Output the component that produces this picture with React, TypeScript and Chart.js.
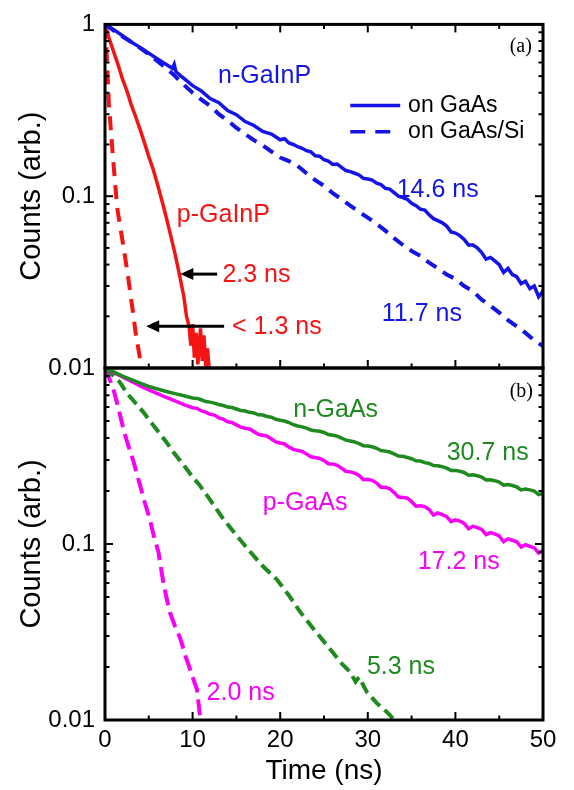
import React, { useEffect, useRef } from 'react';
import { Chart, registerables } from 'chart.js';

Chart.register(...registerables);

const FONT = '"Liberation Sans", Arial, Helvetica, sans-serif';
const SERIF = '"Liberation Serif", "Times New Roman", serif';

// ---- axes ----
const xMin = 0;
const xMax = 50;
const xMajor = [0, 10, 20, 30, 40, 50];
const xMinor = [5, 15, 25, 35, 45];
const yMajor = [0.01, 0.1, 1];
const topYLabels = ['0.01', '0.1', '1'];
const bottomYLabels = ['0.01', '0.1', ''];
const xLabels = ['0', '10', '20', '30', '40', '50'];

// ---- colours ----
const BLUE = '#1414e8';
const RED = '#f41414';
const GREEN = '#1f8a1f';
const MAGENTA = '#f800f8';

// ---- panel (a): GaInP ----
const nGaInP_GaAs: [number, number][] = [
  [0, 1], [1, 0.93], [2, 0.86], [3, 0.79], [4, 0.735], [5, 0.68], [6, 0.63], [7, 0.585],
  [7.7, 0.555], [7.9, 0.585], [8.1, 0.53], [9, 0.485], [10, 0.44], [11, 0.41], [12, 0.37],
  [13, 0.35], [14, 0.315], [15, 0.298], [16, 0.272], [17, 0.258], [18, 0.238], [19, 0.23],
  [20, 0.213], [20.5, 0.216], [21, 0.204], [21.5, 0.2], [22, 0.194], [22.5, 0.19], [23, 0.184],
  [23.5, 0.181], [24, 0.172], [24.5, 0.171], [25, 0.163], [25.5, 0.16], [26, 0.153],
  [26.5, 0.154], [27, 0.147], [27.5, 0.141], [28, 0.139], [28.5, 0.136], [29, 0.133],
  [29.5, 0.127], [30, 0.126], [30.5, 0.124], [31, 0.119], [31.5, 0.117], [32, 0.111],
  [32.5, 0.11], [33, 0.105], [33.5, 0.1], [34, 0.098], [34.5, 0.096], [35, 0.091],
  [35.5, 0.088], [36, 0.084], [36.5, 0.083], [37, 0.078], [37.5, 0.074], [38, 0.072],
  [38.5, 0.07], [39, 0.067], [39.5, 0.062], [40, 0.061], [40.5, 0.059], [41, 0.056],
  [41.5, 0.052], [42, 0.052], [42.5, 0.05], [43, 0.047], [43.5, 0.043], [44, 0.044],
  [44.5, 0.042], [45, 0.04], [45.5, 0.036], [46, 0.038], [46.5, 0.035], [47, 0.034],
  [47.5, 0.031], [48, 0.032], [48.5, 0.029], [49, 0.03], [49.5, 0.026], [50, 0.028],
];
const nGaInP_Si: [number, number][] = [
  [0, 1], [1, 0.92], [2, 0.85], [3, 0.79], [4, 0.73], [5, 0.67], [6, 0.61], [7, 0.555],
  [8, 0.5], [9, 0.445], [10, 0.4], [11, 0.365], [12, 0.335], [13, 0.3], [14, 0.275], [15, 0.25],
  [16, 0.23], [17, 0.212], [18, 0.198], [19, 0.182], [20, 0.168], [21, 0.16], [22, 0.15],
  [23, 0.136], [24, 0.124], [25, 0.115], [26, 0.104], [27, 0.096], [28, 0.088], [29, 0.081],
  [30, 0.075], [31, 0.069], [32, 0.063], [33, 0.057], [34, 0.052], [35, 0.048], [36, 0.045],
  [37, 0.041], [38, 0.038], [39, 0.035], [40, 0.033], [41, 0.03], [42, 0.028], [43, 0.025],
  [44, 0.023], [45, 0.021], [46, 0.019], [47, 0.0175], [48, 0.016], [49, 0.0145], [50, 0.0134],
];
const pGaInP_GaAs: [number, number][] = [
  [0, 1], [0.5, 0.82], [1, 0.69], [1.5, 0.58], [2, 0.48], [2.5, 0.41], [3, 0.34], [3.5, 0.29],
  [4, 0.245], [4.5, 0.205], [5, 0.17], [5.5, 0.143], [6, 0.117], [6.5, 0.094], [7, 0.075],
  [7.5, 0.059], [8, 0.046], [8.5, 0.035], [9, 0.026], [9.3, 0.02], [9.6, 0.0175], [9.8, 0.0135],
  [10, 0.018], [10.2, 0.0115], [10.4, 0.016], [10.6, 0.0105], [10.9, 0.017], [11.1, 0.011],
  [11.3, 0.0155], [11.5, 0.0102], [11.7, 0.013], [11.9, 0.0098],
];
const pGaInP_Si: [number, number][] = [
  [0, 1], [0.15, 0.75], [0.3, 0.5], [0.45, 0.34], [0.65, 0.25], [0.9, 0.17], [1.15, 0.12],
  [1.4, 0.085], [1.7, 0.068], [2, 0.055], [2.3, 0.044], [2.6, 0.035], [2.9, 0.027],
  [3.2, 0.021], [3.5, 0.016], [3.8, 0.013], [4.1, 0.0105], [4.3, 0.0095],
];

// ---- panel (b): GaAs ----
const nGaAs_GaAs: [number, number][] = [
  [0, 1], [1, 0.95], [2, 0.9], [3, 0.86], [4, 0.82], [5, 0.785], [6, 0.76], [7, 0.735],
  [8, 0.715], [9, 0.695], [10, 0.675], [10.5, 0.672], [11, 0.66], [11.5, 0.645], [12, 0.64],
  [12.5, 0.632], [13, 0.62], [13.5, 0.612], [14, 0.6], [14.5, 0.596], [15, 0.585], [15.5, 0.574],
  [16, 0.57], [16.5, 0.56], [17, 0.555], [17.5, 0.542], [18, 0.54], [18.5, 0.53], [19, 0.525],
  [19.5, 0.511], [20, 0.505], [20.5, 0.5], [21, 0.49], [21.5, 0.476], [22, 0.468], [22.5, 0.463],
  [23, 0.455], [23.5, 0.444], [24, 0.44], [24.5, 0.437], [25, 0.43], [25.5, 0.419], [26, 0.415],
  [26.5, 0.41], [27, 0.4], [27.5, 0.389], [28, 0.385], [28.5, 0.38], [29, 0.372], [29.5, 0.362],
  [30, 0.36], [30.5, 0.357], [31, 0.35], [31.5, 0.34], [32, 0.337], [32.5, 0.333], [33, 0.325],
  [33.5, 0.316], [34, 0.315], [34.5, 0.31], [35, 0.305], [35.5, 0.297], [36, 0.296], [36.5, 0.29],
  [37, 0.287], [37.5, 0.279], [38, 0.278], [38.5, 0.275], [39, 0.27], [39.5, 0.262], [40, 0.262],
  [40.5, 0.259], [41, 0.255], [41.5, 0.246], [42, 0.247], [42.5, 0.244], [43, 0.24], [43.5, 0.231],
  [44, 0.232], [44.5, 0.229], [45, 0.225], [45.5, 0.216], [46, 0.218], [46.5, 0.215], [47, 0.211],
  [47.5, 0.203], [48, 0.205], [48.5, 0.203], [49, 0.2], [49.5, 0.191], [50, 0.194],
];
const pGaAs_GaAs: [number, number][] = [
  [0, 1], [1, 0.94], [2, 0.89], [3, 0.84], [4, 0.79], [5, 0.75], [6, 0.715], [7, 0.68],
  [8, 0.65], [9, 0.62], [10, 0.595], [10.5, 0.59], [11, 0.57], [11.5, 0.561], [12, 0.545],
  [12.5, 0.54], [13, 0.52], [13.5, 0.512], [14, 0.495], [14.5, 0.49], [15, 0.475], [15.5, 0.461],
  [16, 0.455], [16.5, 0.45], [17, 0.435], [17.5, 0.42], [18, 0.415], [18.5, 0.41], [19, 0.395],
  [19.5, 0.38], [20, 0.375], [20.5, 0.37], [21, 0.355], [21.5, 0.345], [22, 0.34], [22.5, 0.336],
  [23, 0.325], [23.5, 0.313], [24, 0.31], [24.5, 0.306], [25, 0.298], [25.5, 0.286], [26, 0.285],
  [26.5, 0.28], [27, 0.27], [27.5, 0.259], [28, 0.257], [28.5, 0.253], [29, 0.245], [29.5, 0.232],
  [30, 0.233], [30.5, 0.23], [31, 0.222], [31.5, 0.21], [32, 0.21], [32.5, 0.206], [33, 0.196],
  [33.5, 0.185], [34, 0.184], [34.5, 0.182], [35, 0.174], [35.5, 0.164], [36, 0.165],
  [36.5, 0.163], [37, 0.157], [37.5, 0.146], [38, 0.15], [38.5, 0.147], [39, 0.143],
  [39.5, 0.134], [40, 0.137], [40.5, 0.135], [41, 0.131], [41.5, 0.122], [42, 0.126],
  [42.5, 0.124], [43, 0.121], [43.5, 0.113], [44, 0.116], [44.5, 0.114], [45, 0.111],
  [45.5, 0.103], [46, 0.107], [46.5, 0.105], [47, 0.103], [47.5, 0.096], [48, 0.099],
  [48.5, 0.097], [49, 0.095], [49.5, 0.089], [50, 0.092],
];
const nGaAs_Si: [number, number][] = [
  [0, 1], [0.5, 0.95], [1, 0.9], [1.7, 0.83], [2.5, 0.72], [3.5, 0.63], [4.4, 0.56], [5, 0.51],
  [6, 0.44], [7, 0.38], [7.8, 0.333], [9, 0.28], [10, 0.24], [10.8, 0.216], [12, 0.178],
  [13.5, 0.139], [15, 0.112], [16.6, 0.09], [18, 0.075], [19.6, 0.063], [21, 0.051],
  [22.3, 0.041], [24, 0.032], [25.3, 0.0267], [27, 0.021], [28, 0.0187], [28.6, 0.0165],
  [29, 0.0175], [29.9, 0.0144], [31, 0.0125], [32, 0.0113], [32.5, 0.0107], [33.2, 0.0097],
];
const pGaAs_Si: [number, number][] = [
  [0, 1], [0.5, 0.87], [0.95, 0.76], [1.5, 0.6], [2.1, 0.45], [2.6, 0.37], [3.2, 0.3],
  [4, 0.216], [4.5, 0.175], [5.1, 0.139], [5.6, 0.11], [6.1, 0.09], [6.6, 0.063], [7, 0.05],
  [7.4, 0.041], [8, 0.034], [8.6, 0.029], [9.2, 0.023], [9.7, 0.0195], [10.1, 0.017],
  [10.5, 0.0149], [10.8, 0.011], [11, 0.0095],
];

// ---- annotations (data coordinates) ----
type Note = { text: string; x: number; y: number; color: string; size?: number; serif?: boolean };
const topNotes: Note[] = [
  { text: 'n-GaInP', x: 12.9, y: 0.5, color: BLUE },
  { text: 'p-GaInP', x: 8.2, y: 0.078, color: RED },
  { text: '2.3 ns', x: 13.4, y: 0.0347, color: RED },
  { text: '< 1.3 ns', x: 14.5, y: 0.0173, color: RED },
  { text: '14.6 ns', x: 33.3, y: 0.108, color: BLUE },
  { text: '11.7 ns', x: 31.6, y: 0.0205, color: BLUE },
  { text: '(a)', x: 46.2, y: 0.74, color: '#000', size: 20, serif: true },
  { text: 'on GaAs', x: 34.6, y: 0.3375, color: '#000', size: 23 },
  { text: 'on GaAs/Si', x: 34.6, y: 0.237, color: '#000', size: 23 },
];
const bottomNotes: Note[] = [
  { text: 'n-GaAs', x: 21.5, y: 0.577, color: GREEN },
  { text: '30.7 ns', x: 39.0, y: 0.329, color: GREEN },
  { text: 'p-GaAs', x: 18.0, y: 0.171, color: MAGENTA },
  { text: '17.2 ns', x: 35.7, y: 0.079, color: MAGENTA },
  { text: '5.3 ns', x: 29.9, y: 0.02, color: GREEN },
  { text: '2.0 ns', x: 11.6, y: 0.0142, color: MAGENTA },
  { text: '(b)', x: 46.2, y: 0.73, color: '#000', size: 20, serif: true },
];
type Arrow = { x0: number; x1: number; y: number };
const topArrows: Arrow[] = [
  { x0: 12.8, x1: 8.6, y: 0.0352 },
  { x0: 13.6, x1: 4.7, y: 0.0175 },
];
type LegendLine = { x0: number; x1: number; y: number; color: string; dash: number[] };
const topLegend: LegendLine[] = [
  { x0: 28.0, x1: 33.7, y: 0.3375, color: BLUE, dash: [] },
  { x0: 28.0, x1: 33.7, y: 0.237, color: BLUE, dash: [15, 10] },
];

const toXY = (pts: [number, number][]) => pts.map(([x, y]) => ({ x, y }));

const solid = (pts: [number, number][], color: string) => ({
  data: toXY(pts),
  borderColor: color,
  borderWidth: 3.5,
  pointRadius: 0,
  fill: false,
  tension: 0,
});
const dashed = (pts: [number, number][], color: string, dash: number[]) => ({
  data: toXY(pts),
  borderColor: color,
  borderWidth: 4,
  borderDash: dash,
  pointRadius: 0,
  fill: false,
  tension: 0,
});

type Decor = {
  topTicks: boolean;
  notes: Note[];
  arrows: Arrow[];
  legend: LegendLine[];
};

const makeDecor = (d: Decor) => ({
  id: 'decor',
  afterDraw(chart: any) {
    const { ctx, chartArea: a, scales } = chart;
    const xs = scales.x;
    const ys = scales.y;
    ctx.save();
    ctx.strokeStyle = '#000';
    ctx.lineCap = 'butt';
    ctx.lineWidth = 2;
    const vline = (px: number, y0: number, y1: number) => {
      ctx.beginPath(); ctx.moveTo(px, y0); ctx.lineTo(px, y1); ctx.stroke();
    };
    const hline = (py: number, x0: number, x1: number) => {
      ctx.beginPath(); ctx.moveTo(x0, py); ctx.lineTo(x1, py); ctx.stroke();
    };
    xMajor.forEach((v) => {
      const px = xs.getPixelForValue(v);
      vline(px, a.bottom, a.bottom - 8);
      if (d.topTicks) vline(px, a.top, a.top + 8);
    });
    xMinor.forEach((v) => {
      const px = xs.getPixelForValue(v);
      vline(px, a.bottom, a.bottom - 4.5);
      if (d.topTicks) vline(px, a.top, a.top + 4.5);
    });
    for (let dec = 0.01; dec < 1; dec *= 10) {
      for (let m = 1; m < 10; m++) {
        const v = dec * m;
        const py = ys.getPixelForValue(v);
        const len = m === 1 ? 8 : 4.5;
        hline(py, a.left, a.left + len);
        hline(py, a.right, a.right - len);
      }
    }
    ctx.lineWidth = 3;
    ctx.strokeRect(a.left, a.top, a.right - a.left, a.bottom - a.top);

    d.legend.forEach((l) => {
      ctx.save();
      ctx.strokeStyle = l.color;
      ctx.lineWidth = 3.5;
      ctx.setLineDash(l.dash);
      const py = ys.getPixelForValue(l.y);
      hline(py, xs.getPixelForValue(l.x0), xs.getPixelForValue(l.x1));
      ctx.restore();
    });

    d.arrows.forEach((ar) => {
      const py = ys.getPixelForValue(ar.y);
      const p0 = xs.getPixelForValue(ar.x0);
      const p1 = xs.getPixelForValue(ar.x1);
      ctx.strokeStyle = '#000';
      ctx.fillStyle = '#000';
      ctx.lineWidth = 3;
      hline(py, p0, p1 + 10);
      ctx.beginPath();
      ctx.moveTo(p1, py);
      ctx.lineTo(p1 + 13, py - 6);
      ctx.lineTo(p1 + 13, py + 6);
      ctx.closePath();
      ctx.fill();
    });

    ctx.textAlign = 'left';
    ctx.textBaseline = 'middle';
    d.notes.forEach((n) => {
      ctx.fillStyle = n.color;
      ctx.font = `${n.size ?? 25}px ${n.serif ? SERIF : FONT}`;
      ctx.fillText(n.text, xs.getPixelForValue(n.x), ys.getPixelForValue(n.y));
    });
    ctx.restore();
  },
});

const labelFor = (labels: string[]) => (value: any) => {
  const i = yMajor.findIndex((m) => Math.abs(m - Number(value)) < m * 1e-6);
  return i >= 0 ? labels[i] : '';
};

const yAxis = (labels: string[]) => ({
  type: 'logarithmic' as const,
  min: 0.01,
  max: 1,
  afterBuildTicks: (s: any) => {
    s.ticks = yMajor.map((v) => ({ value: v }));
  },
  afterFit: (s: any) => {
    s.width = 105;
  },
  ticks: {
    callback: labelFor(labels),
    font: { family: FONT, size: 24 },
    color: '#000',
    padding: 10,
    autoSkip: false,
  },
  grid: { display: false, drawTicks: false },
  border: { display: false },
  title: {
    display: true,
    text: 'Counts (arb.)',
    color: '#000',
    font: { family: FONT, size: 29 },
    padding: { top: 15, bottom: 0 },
  },
});

export default function App() {
  const topRef = useRef<HTMLCanvasElement>(null);
  const botRef = useRef<HTMLCanvasElement>(null);

  useEffect(() => {
    if (!topRef.current || !botRef.current) return;
    Chart.defaults.color = '#000';

    const top = new Chart(topRef.current, {
      type: 'line',
      data: {
        datasets: [
          solid(nGaInP_GaAs, BLUE),
          dashed(nGaInP_Si, BLUE, [12, 8]),
          solid(pGaInP_GaAs, RED),
          dashed(pGaInP_Si, RED, [14, 9]),
        ] as any,
      },
      options: {
        animation: false,
        responsive: false,
        events: [],
        layout: { padding: { left: 0, right: 31, top: 15, bottom: 422 } },
        plugins: { legend: { display: false }, tooltip: { enabled: false } },
        scales: {
          x: {
            type: 'linear',
            min: xMin,
            max: xMax,
            ticks: { display: false },
            grid: { display: false, drawTicks: false },
            border: { display: false },
            afterFit: (s: any) => {
              s.height = 0;
            },
          },
          y: yAxis(topYLabels) as any,
        },
      },
      plugins: [makeDecor({ topTicks: true, notes: topNotes, arrows: topArrows, legend: topLegend })],
    });

    const bottom = new Chart(botRef.current, {
      type: 'line',
      data: {
        datasets: [
          solid(nGaAs_GaAs, GREEN),
          solid(pGaAs_GaAs, MAGENTA),
          dashed(nGaAs_Si, GREEN, [12, 6]),
          dashed(pGaAs_Si, MAGENTA, [16, 7]),
        ] as any,
      },
      options: {
        animation: false,
        responsive: false,
        events: [],
        layout: { padding: { left: 0, right: 31, top: 368, bottom: 0 } },
        plugins: { legend: { display: false }, tooltip: { enabled: false } },
        scales: {
          x: {
            type: 'linear',
            min: xMin,
            max: xMax,
            afterBuildTicks: (s: any) => {
              s.ticks = xMajor.map((v) => ({ value: v }));
            },
            afterFit: (s: any) => {
              s.height = 70;
            },
            ticks: {
              callback: (v: any) => {
                const i = xMajor.indexOf(Number(v));
                return i >= 0 ? xLabels[i] : '';
              },
              font: { family: FONT, size: 24 },
              color: '#000',
              padding: 6,
              maxRotation: 0,
              autoSkip: false,
            },
            grid: { display: false, drawTicks: false },
            border: { display: false },
            title: {
              display: true,
              text: 'Time (ns)',
              color: '#000',
              font: { family: FONT, size: 28 },
              padding: { top: 0, bottom: 2 },
            },
          },
          y: yAxis(bottomYLabels) as any,
        },
      },
      plugins: [makeDecor({ topTicks: false, notes: bottomNotes, arrows: [], legend: [] })],
    });

    return () => {
      top.destroy();
      bottom.destroy();
    };
  }, []);

  const cs: React.CSSProperties = { position: 'absolute', left: 0, top: 0, width: 574, height: 790 };
  return (
    <div style={{ position: 'absolute', left: 0, top: 0, width: 574, height: 790, background: '#fff' }}>
      <canvas ref={topRef} width={574} height={790} style={cs} />
      <canvas ref={botRef} width={574} height={790} style={cs} />
    </div>
  );
}
